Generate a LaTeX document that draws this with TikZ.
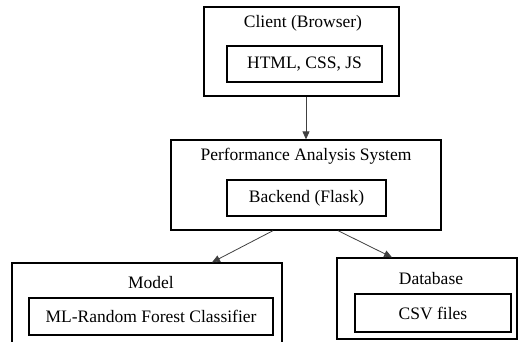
\documentclass[tikz,border=0pt]{standalone}
\usepackage{fontspec}
\setmainfont{LiberationSerif}[Extension=.ttf, UprightFont=*-Regular, BoldFont=*-Bold]
\usetikzlibrary{arrows.meta,positioning}

\begin{document}
\begin{tikzpicture}[x=1pt, y=-1pt, font=\fontsize{17.5}{20}\selectfont, >={Triangle[length=8pt,width=7pt]},
  outer/.style={draw, line width=1.3pt, inner sep=0pt},
  inner/.style={draw, line width=1.1pt, inner sep=0pt},
  title/.style={inner sep=0pt, anchor=center},
  link/.style={->, draw=black!75, line width=0.8pt}]
  \useasboundingbox (0,0) rectangle (518,341);
  \clip (0,0) rectangle (518,341);
  % client side
  \node[outer, minimum width=195pt, minimum height=89pt] (client) at (301.5,51.5) {};
  \node[title] (clientT) at (303,23) {Client (Browser)};
  \node[inner, minimum width=155pt, minimum height=36pt] (web) at (304.5,64) {HTML, CSS, JS};
  % server
  \node[outer, minimum width=270pt, minimum height=90pt] (pas) at (306,185) {};
  \node[title] (pasT) at (306,156) {Performance Analysis System};
  \node[inner, minimum width=159pt, minimum height=36pt] (flask) at (306.5,198) {Backend (Flask)};
  % model and storage
  \node[outer, minimum width=270pt, minimum height=90pt] (model) at (147,308) {};
  \node[title] (modelT) at (151,283) {Model};
  \node[inner, minimum width=244pt, minimum height=37pt] (rf) at (151,316.5) {ML-Random Forest Classifier};
  \node[outer, minimum width=180pt, minimum height=81pt] (db) at (427,298.5) {};
  \node[title] (dbT) at (431,279) {Database};
  \node[inner, minimum width=156pt, minimum height=38pt] (csv) at (433,313) {CSV files};
  \draw[link] (client.south -| pas.north) -- (pas.north);
  \draw[link] ([xshift=-33pt]pas.south) -- ([xshift=65pt]model.north);
  \draw[link] ([xshift=32pt]pas.south) -- ([xshift=-35pt]db.north);
\end{tikzpicture}
\end{document}
